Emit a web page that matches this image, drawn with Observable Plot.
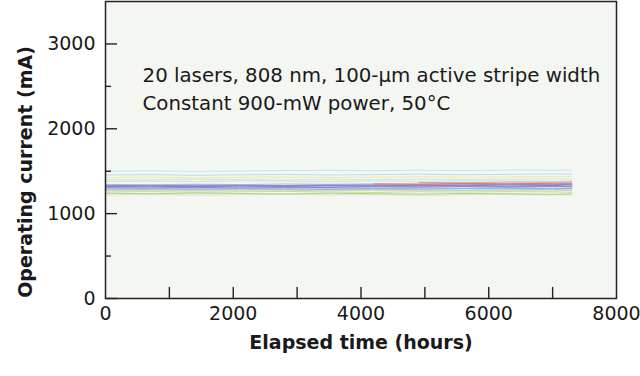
<!DOCTYPE html>
<html><head><meta charset="utf-8">
<script src="https://cdn.jsdelivr.net/npm/d3@7"></script>
<script src="https://cdn.jsdelivr.net/npm/@observablehq/plot@0.6"></script>
<style>
body{margin:0;background:#fff;}
g[aria-label="x-axis label"] text, g[aria-label="y-axis label"] text{font-weight:bold;}
</style></head><body><div id="chart"></div>
<script>
// Elapsed time sample points (hours)
const times = [0, 700, 1400, 2100, 2800, 3500, 4200, 4900, 5600, 6300, 7000, 7300];
// Operating current (mA) of 20 lasers at those times (null = not plotted)
const laser01 = [1455,1460,1452,1458,1462,1455,1460,1465,1458,1462,1468,1465];
const laser02 = [1500,1505,1498,1502,1508,1510,1505,1512,1508,1515,1510,1512];
const laser03 = [1425,1430,1420,1428,1432,1426,1430,1435,1428,1432,1438,1435];
const laser04 = [1400,1398,1405,1402,1396,1404,1400,1408,1402,1406,1410,1405];
const laser05 = [1320,1318,1322,1315,1320,1324,1318,1322,1326,1320,1325,1322];
const laser06 = [1330,1335,1328,1338,1332,1340,1335,1342,1338,1345,1340,1348];
const laser07 = [1310,1312,1306,1314,1310,1308,1315,1312,1318,1314,1320,1316];
const laser08 = [null,null,null,null,null,null,1350,1348,1355,1352,1358,1360];
const laser09 = [null,null,null,null,null,null,null,1368,1365,1372,1370,1375];
const laser10 = [1240,1235,1242,1238,1232,1240,1236,1230,1238,1234,1228,1232];
const laser11 = [1255,1260,1252,1258,1262,1255,1250,1258,1254,1260,1256,1252];
const laser12 = [1300,1295,1302,1298,1305,1300,1296,1302,1298,1304,1300,1298];
const laser13 = [1325,1328,1322,1330,1326,1332,1328,1334,1330,1336,1332,1338];
const laser14 = [1280,1284,1278,1286,1282,1278,1285,1280,1276,1282,1286,1280];
const laser15 = [1345,1340,1348,1342,1350,1346,1352,1348,1355,1350,1358,1355];
const laser16 = [1270,1274,1268,1272,1276,1270,1274,1268,1272,1276,1270,1274];
const laser17 = [1220,1225,1218,1222,1228,1220,1224,1216,1222,1226,1220,1224];
const laser18 = [1380,1384,1378,1386,1382,1378,1385,1380,1388,1384,1380,1386];
const laser19 = [1335,1332,1338,1334,1330,1336,1340,1334,1338,1344,1340,1346];
const laser20 = [1290,1294,1288,1296,1292,1288,1295,1290,1296,1300,1294,1298];
const lasers = [laser01,laser02,laser03,laser04,laser05,laser06,laser07,laser08,laser09,laser10,
                laser11,laser12,laser13,laser14,laser15,laser16,laser17,laser18,laser19,laser20];
const laserColors = ["#a6d8e8","#c4dcf0","#e6e4a8","#cfe4b0","#7d88d0","#9282c6","#6a78c8","#e06848","#d88a98","#98c870",
                     "#b4d890","#a4acdc","#6274c6","#98ccc4","#b4a4e2","#e2d488","#c8e4b8","#b0e2ea","#9a7cbc","#8494e0"];
// Draw order (red/pink on top)
const drawOrder = [1,0,2,3,17,10,16,9,15,13,19,11,6,4,12,18,5,14,7,8];

const xLabelTicks = [0, 2000, 4000, 6000, 8000];
const xMinorTicks = [1000, 2000, 3000, 4000, 5000, 6000, 7000];
const yLabelTicks = [0, 1000, 2000, 3000];
const yMinorTicks = [500, 1500, 2500];
const noteLines = ["20 lasers, 808 nm, 100-\u00b5m active stripe width", "Constant 900-mW power, 50\u00b0C"];
const noteX = [580, 580];
const noteY = [2630, 2300];
const xTitle = "Elapsed time (hours)";
const yTitle = "Operating current (mA)";

const rows = drawOrder.flatMap(id => times.map((t, i) => ({id, t, v: lasers[id][i], color: laserColors[id]})));

const font = "DejaVu Sans, sans-serif";
const chart = Plot.plot({
  width: 640, height: 376,
  marginLeft: 105, marginRight: 24, marginTop: 1, marginBottom: 78,
  style: {fontFamily: font, fontSize: "19px", color: "#1a1a1a", background: "#fff", overflow: "visible"},
  x: {domain: [0, 8000], labelArrow: "none"},
  y: {domain: [0, 3500], labelArrow: "none"},
  marks: [
    Plot.frame({fill: "#f4f6f2"}),
    Plot.line(rows, {x: "t", y: "v", z: "id", stroke: "color", strokeWidth: 1, strokeOpacity: 0.8}),
    Plot.text(noteLines, {x: (d, i) => noteX[i], y: (d, i) => noteY[i], text: d => d, textAnchor: "start", fontSize: 19.8, fill: "#1a1a1a"}),
    Plot.axisX({ticks: xLabelTicks, tickSize: 0, tickPadding: 8, tickFormat: d => String(d), fontSize: 19,
                label: xTitle, labelAnchor: "center", labelOffset: 50}),
    Plot.axisX({ticks: xMinorTicks, tickSize: -11, tickFormat: () => "", label: null, strokeWidth: 1.4, stroke: "#222"}),
    Plot.axisY({ticks: yLabelTicks, tickSize: 0, tickPadding: 10, tickFormat: d => String(d), fontSize: 19,
                label: yTitle, labelAnchor: "center", labelOffset: 87}),
    Plot.axisY({ticks: yLabelTicks, tickSize: -12, tickFormat: () => "", label: null, strokeWidth: 1.4, stroke: "#222"}),
    Plot.axisY({ticks: yMinorTicks, tickSize: -6, tickFormat: () => "", label: null, strokeWidth: 1.4, stroke: "#222"}),
    Plot.frame({stroke: "#222", strokeWidth: 1.5})
  ]
});
// remove any automatic label arrows
d3.select(chart).selectAll('g[aria-label$="axis label"] text')
  .each(function() { const s = this.textContent.replace(/[\u2190-\u2193]/g, "").trim(); this.textContent = s; });
// the reference's y title sits a little below the frame's middle
d3.select(chart).selectAll('g[aria-label="y-axis label"]')
  .attr("transform", function() { return "translate(0,22) " + (this.getAttribute("transform") || ""); });
document.getElementById("chart").appendChild(chart);
</script></body></html>
